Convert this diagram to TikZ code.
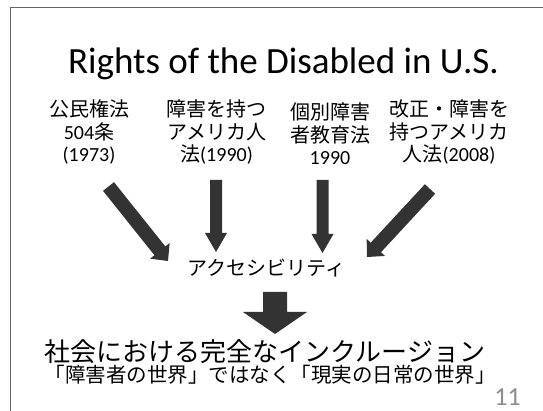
\documentclass[tikz,border=0pt]{standalone}
\usepackage{fontspec}
\setmainfont{Carlito}
\newfontfamily\jp{Noto Sans CJK JP}
\usetikzlibrary{calc}
\definecolor{arrowgray}{HTML}{333333}
\definecolor{framegray}{HTML}{666666}
\definecolor{pagegray}{HTML}{8C8C8C}
\tikzset{
  arrowfill/.style={fill=arrowgray},
  lawlabel/.style={align=center,anchor=base,inner sep=0pt,
    font=\fontsize{20}{22.5}\selectfont},
  jptext/.style={inner sep=0pt,anchor=base},
}
% #1 start, #2 end, #3 half shaft width, #4 half head width, #5 head length
\newcommand\blkarrow[5]{%
  \coordinate (#2-b) at ($(#2)!#5!(#1)$);
  \fill[arrowfill] ($(#1)!#3!90:(#2)$) -- ($(#2-b)!#3!90:(#2)$)
    -- ($(#2-b)!#4!90:(#2)$) -- (#2) -- ($(#2-b)!#4!-90:(#2)$)
    -- ($(#2-b)!#3!-90:(#2)$) -- ($(#1)!#3!-90:(#2)$) -- cycle;
}
\begin{document}
\begin{tikzpicture}[x=1pt,y=-1pt]
\useasboundingbox (0,0) rectangle (543,411);
% frame
\coordinate (fb) at (10.5,411);
\coordinate (fc) at (10.5,7.5);
\coordinate (fr) at (543,7.5);
\draw[framegray,line width=1.5pt] (fb) -- (fc) -- (fr);

% title
\node[anchor=base,inner sep=0pt,font=\fontsize{37}{44}\selectfont] (title) at (283.5,74) {Rights of the Disabled in U.S.};

% law labels (anchor = baseline of last line)
\node[lawlabel] (law1) at (89,162) {{\jp 公民権法}\\504{\jp 条}\\(1973)};
\node[lawlabel] (law2) at (216.5,162) {{\jp 障害を持つ}\\{\jp アメリカ人}\\{\jp 法}(1990)};
\node[lawlabel] (law3) at (330,165) {{\jp 個別障害}\\{\jp 者教育法}\\1990};
\node[lawlabel] (law4) at (449,162) {{\jp 改正・障害を}\\{\jp 持つアメリカ}\\{\jp 人法}(2008)};

% accessibility
\node[jptext,font=\fontsize{20}{22}\selectfont\jp] (acc) at (266.5,276) {アクセシビリティ};

% inclusion
\node[jptext,font=\fontsize{26}{30}\selectfont\jp] (incl) at (265,361) {社会における完全なインクルージョン};
\node[jptext,font=\fontsize{20.5}{24}\selectfont\jp] (world) at (270,382) {「障害者の世界」ではなく「現実の日常の世界」};

% page number
\node[anchor=base,inner sep=0pt,text=pagegray,font=\fontsize{26}{30}\selectfont] (page) at (507.5,405) {11};

% arrows
\coordinate (a1s) at (108.5,186.5);
\coordinate (a1e) at (168,261);
\coordinate (a2s) at (216,180);
\coordinate (a2e) at (216,252);
\coordinate (a3s) at (322.5,180);
\coordinate (a3e) at (322.5,253);
\coordinate (a4s) at (430,189);
\coordinate (a4e) at (367,257);
\coordinate (a5s) at (275,292);
\coordinate (a5e) at (275,334);
\blkarrow{a1s}{a1e}{7pt}{12.5pt}{13pt}
\blkarrow{a2s}{a2e}{6pt}{11pt}{19pt}
\blkarrow{a3s}{a3e}{6pt}{11pt}{19pt}
\blkarrow{a4s}{a4e}{7pt}{12.5pt}{13pt}
\blkarrow{a5s}{a5e}{12pt}{32pt}{22pt}
\end{tikzpicture}
\end{document}
